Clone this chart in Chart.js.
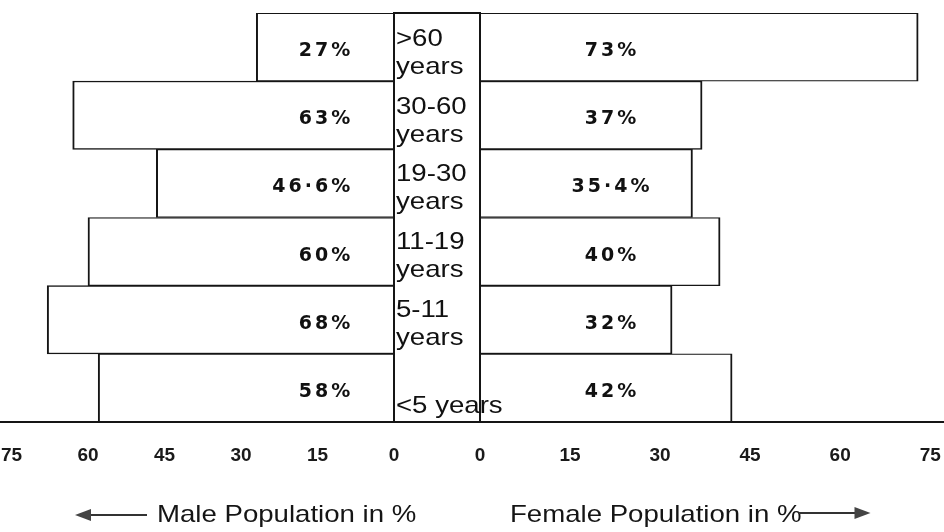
<!DOCTYPE html>
<html>
<head>
<meta charset="utf-8">
<title>Age-wise population</title>
<script src="https://cdn.jsdelivr.net/npm/chart.js@4.4.1/dist/chart.umd.min.js"></script>
<style>
  html, body { margin: 0; padding: 0; background: #fff; }
  #page { position: relative; width: 944px; height: 532px; overflow: hidden; background: #fff; }
  .wrap { position: absolute; top: 0; height: 532px; }
  #male-wrap { left: 0; width: 437px; }
  #female-wrap { left: 437px; width: 507px; }
  /* centre column holding the age groups */
  #age-box {
    position: absolute; left: 393px; top: 12px; width: 88px; height: 411px;
    box-sizing: border-box; border: 2px solid #151515;
    display: flex; flex-direction: column;
  }
  .age-row {
    flex: 1; display: flex; flex-direction: column; justify-content: flex-end;
    padding: 0 0 2px 1px; color: #111; white-space: nowrap;
    font: 24px 'Liberation Sans', Arial, sans-serif; line-height: 28px;
  }
  .age-row span { display: block; transform: scaleX(1.15); transform-origin: left; }
</style>
</head>
<body>
<div id="page">
  <div class="wrap" id="male-wrap"><canvas id="maleChart"></canvas></div>
  <div class="wrap" id="female-wrap"><canvas id="femaleChart"></canvas></div>
  <div id="age-box"></div>
</div>
<script>
const ageGroups = [['>60', 'years'], ['30-60', 'years'], ['19-30', 'years'], ['11-19', 'years'], ['5-11', 'years'], ['<5 years']];
const malePct = [27, 63, 46.6, 60, 68, 58];
const femalePct = [73, 37, 35.4, 40, 32, 42];
const tickValues = [0, 15, 30, 45, 60, 75];

const ink = '#151515';
Chart.defaults.font.family = "'Liberation Sans', Arial, sans-serif";
Chart.defaults.color = ink;

// age group labels in the middle column
const box = document.getElementById('age-box');
ageGroups.forEach(lines => {
  const row = document.createElement('div');
  row.className = 'age-row';
  lines.forEach(t => {
    const s = document.createElement('span');
    s.textContent = t;
    row.appendChild(s);
  });
  box.appendChild(row);
});

// percentage written inside each bar
const barText = {
  id: 'barText',
  afterDatasetsDraw(chart, args, opts) {
    const { ctx } = chart;
    const x = chart.scales.x;
    const meta = chart.getDatasetMeta(0);
    const values = chart.data.datasets[0].data;
    ctx.save();
    ctx.font = "bold 19px 'DejaVu Sans', sans-serif";
    ctx.letterSpacing = '3px';
    ctx.fillStyle = '#111';
    ctx.textAlign = opts.align;
    ctx.textBaseline = 'middle';
    meta.data.forEach((bar, i) => {
      const txt = String(values[i]).replace('.', '·') + '%';
      ctx.fillText(txt, x.getPixelForValue(opts.at), bar.y + 4);
    });
    ctx.restore();
  }
};

// axis caption with arrow under each half
const axisCaption = {
  id: 'axisCaption',
  afterDraw(chart, args, opts) {
    const { ctx, chartArea } = chart;
    const stretch = 1.15;
    ctx.save();
    ctx.font = "24px 'Liberation Sans', Arial, sans-serif";
    ctx.fillStyle = ink;
    const w = ctx.measureText(opts.text).width * stretch;
    const x0 = chartArea.left + opts.offset;
    ctx.save();
    ctx.translate(x0, 522);
    ctx.scale(stretch, 1);
    ctx.fillText(opts.text, 0, 0);
    ctx.restore();

    let tail, tip, y;
    if (opts.dir < 0) { tip = x0 - 82; tail = x0 - 10; y = 515; }
    else { tail = x0 + w - 3; tip = tail + 72; y = 513; }
    const d = opts.dir;
    ctx.strokeStyle = '#333';
    ctx.lineWidth = 2;
    ctx.beginPath();
    ctx.moveTo(tail, y);
    ctx.lineTo(tip - d * 12, y);
    ctx.stroke();
    ctx.fillStyle = '#444';
    ctx.beginPath();
    ctx.moveTo(tip, y);
    ctx.lineTo(tip - d * 16, y - 6);
    ctx.lineTo(tip - d * 16, y + 6);
    ctx.closePath();
    ctx.fill();
    ctx.restore();
  }
};

function makeSide(id, values, cfg) {
  return new Chart(document.getElementById(id), {
    type: 'bar',
    data: {
      labels: ageGroups.map(g => g.join(' ')),
      datasets: [{
        data: values,
        backgroundColor: '#fff',
        borderColor: ink,
        borderWidth: { top: 1.3, bottom: 1.3, left: 2, right: 2 },
        borderSkipped: 'start',
        barPercentage: 1,
        categoryPercentage: 1
      }]
    },
    options: {
      indexAxis: 'y',
      responsive: true,
      maintainAspectRatio: false,
      animation: false,
      events: [],
      layout: { padding: cfg.padding },
      plugins: {
        legend: { display: false },
        tooltip: { enabled: false },
        barText: cfg.text,
        axisCaption: cfg.caption
      },
      scales: {
        y: { display: false },
        x: {
          type: 'linear',
          reverse: cfg.reverse,
          min: 0,
          max: cfg.max,
          grid: { display: false, drawTicks: false },
          border: { display: true, color: ink, width: 2 },
          ticks: {
            padding: 22,
            color: '#1a1a1a',
            font: { size: 19, weight: 'bold' }
          },
          afterBuildTicks(scale) {
            scale.ticks = tickValues.map(v => ({ value: v }));
          },
          afterFit(scale) {
            scale.height = 110;
            scale.paddingLeft = 0;
            scale.paddingRight = 0;
          }
        }
      }
    },
    plugins: [barText, axisCaption]
  });
}

makeSide('maleChart', malePct, {
  reverse: true,
  max: 77.25,
  padding: { top: 13, right: 43, left: 0, bottom: 0 },
  text: { at: 8, align: 'right' },
  caption: { text: 'Male Population in %', offset: 157, dir: -1 }
});

makeSide('femaleChart', femalePct, {
  reverse: false,
  max: 77.3,
  padding: { top: 13, left: 43, right: 0, bottom: 0 },
  text: { at: 22, align: 'center' },
  caption: { text: 'Female Population in %', offset: 30, dir: 1 }
});
</script>
</body>
</html>
